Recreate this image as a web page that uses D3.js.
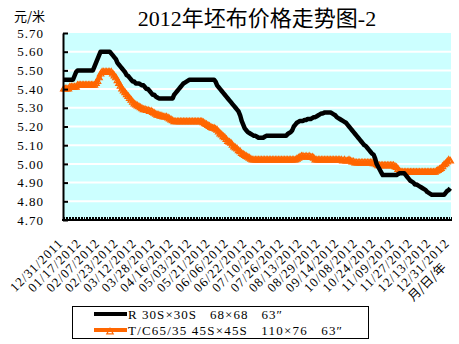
<!DOCTYPE html>
<html><head><meta charset="utf-8">
<script src="https://cdn.jsdelivr.net/npm/d3@7/dist/d3.min.js"></script>
<style>body{margin:0;background:#fff}svg{display:block}</style>
</head><body><svg id="c" width="459" height="344"></svg>
<script>
const title = "2012年坯布价格走势图-2";
const yUnit = "元/米";
const xUnit = "月/日/年";
const tickLabels = ["12/31/2011","01/17/2012","02/07/2012","02/23/2012","03/12/2012","03/28/2012","04/16/2012","05/03/2012","05/21/2012","06/06/2012","06/22/2012","07/10/2012","07/26/2012","08/13/2012","08/29/2012","09/14/2012","10/08/2012","10/24/2012","11/09/2012","11/27/2012","12/13/2012","12/31/2012"];
const labelEvery = 12;
const yTicks = [4.70,4.80,4.90,5.00,5.10,5.20,5.30,5.40,5.50,5.60,5.70];
const seriesNames = ["R 30S×30S   68×68   63″", "T/C65/35 45S×45S   110×76   63″"];
const seriesR = [
5.45,5.45,5.45,5.45,5.45,5.45,5.45,5.47,5.49,5.50,
5.50,5.50,5.50,5.50,5.50,5.50,5.50,5.50,5.50,5.50,
5.52,5.54,5.56,5.58,5.60,5.60,5.60,5.60,5.60,5.60,
5.60,5.59,5.58,5.57,5.56,5.54,5.53,5.52,5.51,5.50,
5.49,5.475,5.47,5.46,5.45,5.44,5.44,5.43,5.43,5.43,
5.425,5.42,5.42,5.41,5.40,5.40,5.39,5.38,5.37,5.37,
5.36,5.355,5.35,5.35,5.35,5.35,5.35,5.35,5.35,5.35,
5.35,5.35,5.37,5.38,5.39,5.40,5.41,5.42,5.43,5.435,
5.44,5.445,5.45,5.45,5.45,5.45,5.45,5.45,5.45,5.45,
5.45,5.45,5.45,5.45,5.45,5.45,5.45,5.45,5.45,5.44,
5.42,5.41,5.40,5.39,5.38,5.37,5.36,5.35,5.34,5.33,
5.32,5.31,5.30,5.29,5.28,5.26,5.23,5.21,5.19,5.18,
5.17,5.165,5.16,5.155,5.15,5.15,5.145,5.14,5.14,5.14,
5.14,5.145,5.15,5.15,5.15,5.15,5.15,5.15,5.15,5.15,
5.15,5.15,5.15,5.15,5.15,5.15,5.16,5.165,5.17,5.18,
5.20,5.21,5.22,5.225,5.23,5.23,5.23,5.235,5.235,5.24,
5.24,5.24,5.245,5.25,5.25,5.255,5.26,5.265,5.27,5.27,
5.275,5.275,5.275,5.275,5.275,5.27,5.265,5.26,5.25,5.245,
5.24,5.235,5.23,5.225,5.22,5.21,5.20,5.19,5.18,5.17,
5.16,5.15,5.14,5.13,5.12,5.11,5.10,5.095,5.085,5.075,
5.065,5.055,5.05,5.03,5.00,4.985,4.97,4.955,4.94,4.94,
4.94,4.94,4.94,4.94,4.94,4.94,4.94,4.94,4.945,4.95,
4.95,4.95,4.95,4.94,4.93,4.92,4.91,4.905,4.90,4.89,
4.89,4.885,4.88,4.875,4.87,4.865,4.86,4.85,4.845,4.84,
4.835,4.835,4.835,4.835,4.835,4.835,4.835,4.835,4.835,4.845,
4.855,4.86,4.87];
const seriesTC = [
5.40,5.40,5.40,5.40,5.41,5.41,5.41,5.41,5.41,5.42,
5.42,5.42,5.42,5.42,5.42,5.42,5.42,5.42,5.42,5.42,
5.42,5.43,5.44,5.46,5.48,5.49,5.49,5.49,5.49,5.49,
5.49,5.49,5.48,5.47,5.46,5.445,5.43,5.415,5.40,5.39,
5.38,5.37,5.36,5.35,5.34,5.33,5.32,5.315,5.31,5.305,
5.30,5.295,5.29,5.29,5.285,5.285,5.28,5.28,5.275,5.27,
5.265,5.26,5.26,5.255,5.255,5.25,5.25,5.25,5.245,5.24,
5.235,5.23,5.225,5.225,5.225,5.225,5.225,5.225,5.225,5.225,
5.225,5.225,5.225,5.225,5.225,5.225,5.225,5.225,5.225,5.225,
5.225,5.22,5.215,5.21,5.205,5.20,5.195,5.19,5.19,5.185,
5.18,5.17,5.16,5.155,5.145,5.14,5.13,5.12,5.115,5.11,
5.10,5.09,5.085,5.08,5.07,5.065,5.055,5.05,5.045,5.04,
5.035,5.03,5.025,5.02,5.02,5.02,5.02,5.02,5.02,5.02,
5.02,5.02,5.02,5.02,5.02,5.02,5.02,5.02,5.02,5.02,
5.02,5.02,5.02,5.02,5.02,5.02,5.02,5.02,5.02,5.02,
5.02,5.02,5.025,5.03,5.035,5.04,5.04,5.035,5.04,5.035,
5.04,5.035,5.035,5.03,5.02,5.02,5.02,5.02,5.02,5.02,
5.02,5.02,5.02,5.02,5.02,5.02,5.02,5.02,5.02,5.02,
5.02,5.02,5.015,5.02,5.015,5.015,5.02,5.015,5.01,5.01,
5.005,5.005,5.005,5.005,5.005,5.005,5.005,5.005,5.005,5.005,
5.005,5.005,5.00,5.00,4.995,4.99,4.99,4.99,4.99,4.99,
4.99,4.99,4.99,4.99,4.99,4.99,4.985,4.98,4.97,4.96,
4.955,4.955,4.955,4.955,4.955,4.955,4.955,4.955,4.955,4.955,
4.955,4.955,4.955,4.955,4.955,4.955,4.955,4.955,4.955,4.955,
4.955,4.955,4.955,4.96,4.965,4.97,4.975,4.985,4.995,5.00,
5.01,5.02,5.015];

const svg = d3.select("#c");
const L = 63, R = 451, T = 33, B = 220;
const n = seriesR.length;
const x = d3.scaleBand().domain(d3.range(n)).range([L, R]).padding(0);
const cx = i => x(i) + x.bandwidth() / 2;
const y = d3.scaleLinear().domain([4.70, 5.70]).range([B, T]);
const serif = "'Liberation Serif','Noto Sans CJK SC',serif";
const cjk = "'Noto Sans CJK SC',sans-serif";

// plot background
svg.append("rect").attr("x", L).attr("y", T).attr("width", R - L).attr("height", B - T).attr("fill", "#CCFFFF");
// gridlines
svg.append("g").selectAll("line").data(yTicks.filter(v => v > 4.71 && v < 5.69)).join("line")
  .attr("x1", L).attr("x2", R).attr("y1", d => y(d)).attr("y2", d => y(d))
  .attr("stroke", "#fff").attr("stroke-width", 2);

// series
const line = d3.line().x((d, i) => cx(i)).y(d => y(d)).curve(d3.curveLinear);
svg.append("path").datum(seriesTC).attr("d", line).attr("fill", "none")
  .attr("stroke", "#FF6600").attr("stroke-width", 4).attr("stroke-linejoin", "round");
const tri = d3.symbol().type(d3.symbolTriangle).size(18);
svg.append("g").selectAll("path").data(seriesTC).join("path")
  .attr("d", tri).attr("transform", (d, i) => `translate(${cx(i)},${y(d)})`)
  .attr("fill", "none").attr("stroke", "#FF6600").attr("stroke-width", 1.2);
svg.append("path").datum(seriesR).attr("d", line).attr("fill", "none")
  .attr("stroke", "#000").attr("stroke-width", 4.5).attr("stroke-linejoin", "round");

// y axis
const yAxis = d3.axisLeft(y).tickValues(yTicks).tickSize(-5).tickSizeOuter(0).tickPadding(19)
  .tickFormat(d3.format(".2f"));
const gy = svg.append("g").attr("transform", `translate(${L},0)`).call(yAxis);
gy.select(".domain").attr("stroke", "#000").attr("stroke-width", 2);
gy.selectAll(".tick line").attr("stroke", "#000").attr("stroke-width", 2);
gy.selectAll(".tick text").attr("font-family", "'Liberation Serif',serif").attr("font-size", 13)
  .attr("letter-spacing", 1).attr("fill", "#000");

// x axis: ticks at every category boundary
const xb = svg.append("g");
xb.selectAll("line").data(d3.range(n + 1)).join("line")
  .attr("x1", i => i < n ? x(i) : R).attr("x2", i => i < n ? x(i) : R)
  .attr("y1", B - 3).attr("y2", B + 0.5)
  .attr("stroke", "#000").attr("stroke-width", 1).attr("shape-rendering", "crispEdges");
xb.append("line").attr("x1", L - 1).attr("x2", R).attr("y1", B).attr("y2", B)
  .attr("stroke", "#000").attr("stroke-width", 2);
xb.selectAll("text").data(tickLabels).join("text")
  .attr("transform", (d, k) => `translate(${cx(k * labelEvery)},${B + 24}) rotate(-45)`)
  .attr("text-anchor", "end").attr("font-family", "'Liberation Serif',serif").attr("font-size", 13)
  .attr("letter-spacing", 1).text(d => d);
svg.append("text").attr("transform", `translate(430,285) rotate(-45)`).attr("text-anchor", "middle")
  .attr("font-family", cjk).attr("font-size", 12.5).text(xUnit);

// title & unit
svg.append("text").attr("x", 257).attr("y", 26).attr("text-anchor", "middle")
  .attr("font-family", serif).attr("font-size", 22).text(title);
svg.append("text").attr("x", 14).attr("y", 21).attr("font-family", cjk).attr("font-size", 13).text(yUnit);

// legend
const lg = svg.append("g");
lg.append("rect").attr("x", 72.5).attr("y", 306.5).attr("width", 296).attr("height", 32)
  .attr("fill", "#fff").attr("stroke", "#000").attr("stroke-width", 1);
const rows = [{name: seriesNames[0], color: "#000", w: 4, marker: false, yy: 314, tl: 154},
              {name: seriesNames[1], color: "#FF6600", w: 4, marker: true, yy: 330, tl: 214}];
rows.forEach(r => {
  lg.append("line").attr("x1", 94).attr("x2", 127).attr("y1", r.yy).attr("y2", r.yy)
    .attr("stroke", r.color).attr("stroke-width", r.w);
  if (r.marker) lg.append("path").attr("d", tri).attr("transform", `translate(110,${r.yy + 2})`)
    .attr("fill", "none").attr("stroke", r.color).attr("stroke-width", 1.2);
  lg.append("text").attr("x", 128).attr("y", r.yy + 4.5).style("white-space", "pre")
    .attr("font-family", serif).attr("font-size", 13).attr("textLength", r.tl).attr("lengthAdjust", "spacing")
    .text(r.name);
});
</script></body></html>
